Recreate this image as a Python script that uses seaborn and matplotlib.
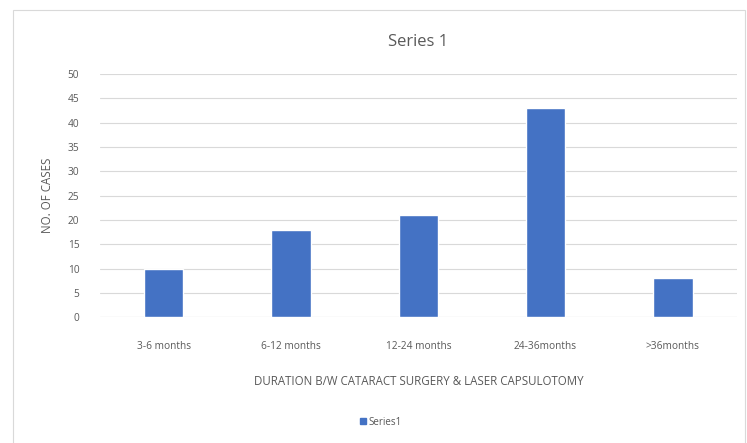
import matplotlib
matplotlib.use("Agg")
import matplotlib.pyplot as plt
import seaborn as sns
import pandas as pd
from matplotlib.patches import Rectangle, Patch

# chart data
categories = ["3-6 months", "6-12 months", "12-24 months", "24-36months", ">36months"]
cases = [10, 18, 21, 43, 8]

df = pd.DataFrame({"Duration": categories, "Cases": cases})

sns.set_theme(style="white")
plt.rcParams["font.family"] = ["Open Sans", "DejaVu Sans"]

fig = plt.figure(figsize=(7.47, 4.43), dpi=100)
ax = fig.add_axes([0.134, 0.284, 0.852, 0.549])

sns.barplot(data=df, x="Duration", y="Cases", color="#4472C4", width=0.31,
            saturation=1, ax=ax, zorder=3)

ax.set_ylim(0, 50)
ax.set_yticks(range(0, 51, 5))
ax.yaxis.grid(True, color="#D9D9D9", linewidth=0.8, zorder=0)
for s in ax.spines.values():
    s.set_visible(False)
ax.axhline(0, color="#D9D9D9", linewidth=0.8, zorder=1)
ax.tick_params(axis="both", length=0, colors="#595959", labelsize=7.3)
ax.tick_params(axis="x", pad=17)
ax.tick_params(axis="y", pad=15)

ax.set_xlabel("DURATION B/W CATARACT SURGERY & LASER CAPSULOTOMY",
              color="#595959", fontsize=8.3, labelpad=17)
ax.set_ylabel("NO. OF CASES", color="#595959", fontsize=8.3, labelpad=10)
ax.set_title("Series 1", color="#595959", fontsize=12, pad=20)

fig.legend(handles=[Patch(color="#4472C4", label="Series1")], loc="center",
           bbox_to_anchor=(0.51, 0.047), frameon=False, fontsize=7,
           handlelength=0.6, handleheight=0.6, handletextpad=0.3,
           labelcolor="#595959")

# chart area border
fig.patches.append(Rectangle((0.017, -0.01), 0.98, 0.987, transform=fig.transFigure,
                             fill=False, edgecolor="#D9D9D9", linewidth=0.8))

fig.savefig("out.png", dpi=100)
